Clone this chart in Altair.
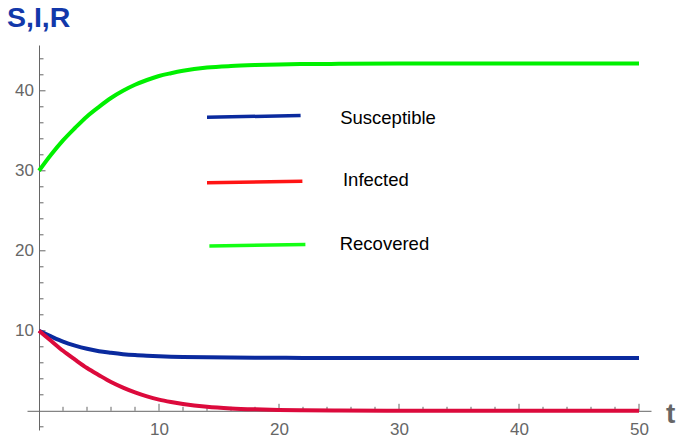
import altair as alt
import pandas as pd

# ---- data ----
t_vals = [0, 1, 2, 3, 4, 5, 6, 7, 8, 9, 10, 11, 12, 14, 16, 18, 20, 22, 25, 30, 35, 40, 45, 50]
S_vals = [10, 9.3, 8.65, 8.15, 7.75, 7.45, 7.25, 7.08, 6.96, 6.88, 6.82, 6.77, 6.73, 6.68, 6.65,
          6.63, 6.62, 6.61, 6.6, 6.6, 6.6, 6.6, 6.6, 6.6]
I_vals = [10, 8.75, 7.5, 6.4, 5.35, 4.45, 3.6, 2.9, 2.3, 1.8, 1.4, 1.1, 0.85, 0.5, 0.3,
          0.18, 0.1, 0.06, 0.03, 0.01, 0, 0, 0, 0]
R_vals = [30, 32.0, 33.8, 35.35, 36.8, 38.0, 39.1, 40.0, 40.75, 41.35, 41.85, 42.2, 42.5, 42.9, 43.1,
          43.22, 43.3, 43.34, 43.37, 43.4, 43.4, 43.4, 43.4, 43.4]

series_names = ["S", "I", "R"]
curve_colors = ["#0a2a9e", "#dc0a3c", "#00f000"]

legend_labels = ["Susceptible", "Infected", "Recovered"]
legend_colors = ["#0a2a9e", "#ff1414", "#14ff14"]
legend_line_x0 = [14.0, 14.0, 14.2]
legend_line_x1 = [21.8, 21.95, 22.2]
legend_line_y0 = [36.7, 28.5, 20.6]
legend_line_y1 = [36.9, 28.7, 20.8]
legend_text_x = [25.1, 25.33, 25.06]
legend_text_y = [36.55, 28.9, 20.8]

x_major = [10, 20, 30, 40, 50]
x_minor = [2, 4, 6, 8, 12, 14, 16, 18, 22, 24, 26, 28, 32, 34, 36, 38, 42, 44, 46, 48]
y_major = [10, 20, 30, 40]
y_minor = [-2, 2, 4, 6, 8, 12, 14, 16, 18, 22, 24, 26, 28, 32, 34, 36, 38, 42, 44]

X_DOMAIN = [-1, 51]
Y_DOMAIN = [-2.4, 45.725]

AX = "#666666"
FONT = "Liberation Sans"

xs = alt.Scale(domain=X_DOMAIN, nice=False, zero=False)
ys = alt.Scale(domain=Y_DOMAIN, nice=False, zero=False)

x_axis = alt.Axis(values=x_major, ticks=False, tickSize=0, grid=False, domainColor=AX, domainWidth=1,
                  labelColor=AX, labelFont=FONT, labelFontSize=17, labelPadding=10.2, labelFlush=False,
                  offset=-19.2, title="t", titleX=638.5, titleY=11.2, titleAlign="left",
                  titleBaseline="alphabetic", titleFontSize=28, titleFontWeight="bold", titleColor=AX,
                  titleFont=FONT, titleAngle=0)
y_axis = alt.Axis(values=y_major, ticks=False, tickSize=0, grid=False, domainColor=AX, domainWidth=1,
                  labelColor=AX, labelFont=FONT, labelFontSize=17, labelPadding=5.5, labelFlush=False,
                  offset=-12, title="S,I,R", titleX=-32.5, titleY=-18.8, titleAlign="left",
                  titleBaseline="alphabetic", titleFontSize=28.5, titleFontWeight="bold",
                  titleColor="#1238aa", titleFont=FONT, titleAngle=0)

n = len(t_vals)
curves_df = pd.DataFrame({
    "t": t_vals * 3,
    "value": S_vals + I_vals + R_vals,
    "series": ["S"] * n + ["I"] * n + ["R"] * n,
})

curves = alt.Chart(curves_df).mark_line(strokeWidth=4, interpolate="monotone").encode(
    x=alt.X("t:Q", scale=xs, axis=x_axis),
    y=alt.Y("value:Q", scale=ys, axis=y_axis),
    color=alt.Color("series:N", scale=alt.Scale(domain=series_names, range=curve_colors), legend=None),
    detail="series:N",
)


def xticks(vals, length):
    return alt.Chart(pd.DataFrame({"v": vals})).mark_rule(color=AX, strokeWidth=1, y2Offset=-length).encode(
        x=alt.X("v:Q", scale=xs, axis=x_axis),
        y=alt.YDatum(0, scale=ys, axis=y_axis),
        y2=alt.Y2Datum(0),
    )


def yticks(vals, length):
    return alt.Chart(pd.DataFrame({"v": vals})).mark_rule(color=AX, strokeWidth=1, x2Offset=length).encode(
        y=alt.Y("v:Q", scale=ys, axis=y_axis),
        x=alt.XDatum(0, scale=xs, axis=x_axis),
        x2=alt.X2Datum(0),
    )


legend_df = pd.DataFrame({
    "name": legend_labels,
    "x0": legend_line_x0, "x1": legend_line_x1,
    "y0": legend_line_y0, "y1": legend_line_y1,
    "tx": legend_text_x, "ty": legend_text_y,
})

legend_lines = alt.Chart(legend_df).mark_rule(strokeWidth=3.5).encode(
    x=alt.X("x0:Q", scale=xs, axis=x_axis), x2="x1:Q",
    y=alt.Y("y0:Q", scale=ys, axis=y_axis), y2="y1:Q",
    color=alt.Color("name:N", scale=alt.Scale(domain=legend_labels, range=legend_colors), legend=None),
)

legend_text = alt.Chart(legend_df).mark_text(align="left", baseline="middle", font=FONT,
                                             fontSize=18.5, color="black").encode(
    x=alt.X("tx:Q", scale=xs, axis=x_axis),
    y=alt.Y("ty:Q", scale=ys, axis=y_axis),
    text="name:N",
)

chart = alt.layer(
    xticks(x_minor, 4), xticks(x_major, 7), yticks(y_minor, 4.5), yticks(y_major, 6.5),
    curves, legend_lines, legend_text,
).resolve_scale(color="independent").properties(
    width=624, height=385,
    autosize=alt.AutoSizeParams(type="none"),
    padding={"left": 27, "top": 45, "right": 26, "bottom": 11},
    background="white",
).configure_view(stroke=None)

chart.save("out.html", embed_options={"renderer": "svg", "actions": False})
